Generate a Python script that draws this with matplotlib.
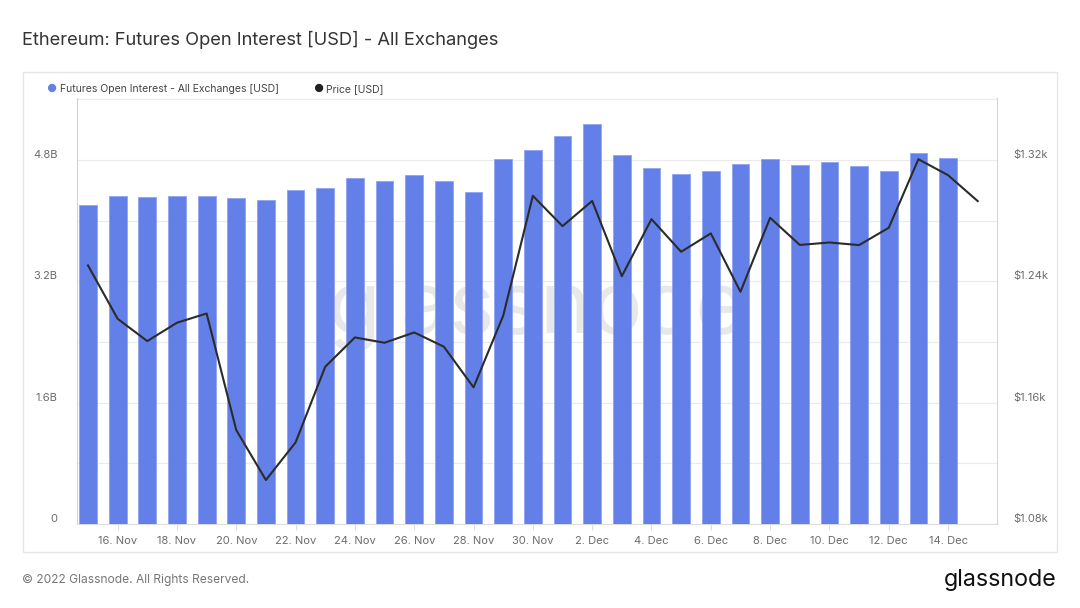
import matplotlib.pyplot as plt
from matplotlib.patches import Rectangle
import numpy as np

plt.rcParams['font.family'] = ['Inter', 'DejaVu Sans']

# daily data, 15 Nov - 15 Dec 2022
dates = ['15. Nov', '16. Nov', '17. Nov', '18. Nov', '19. Nov', '20. Nov', '21. Nov',
         '22. Nov', '23. Nov', '24. Nov', '25. Nov', '26. Nov', '27. Nov', '28. Nov',
         '29. Nov', '30. Nov', '1. Dec', '2. Dec', '3. Dec', '4. Dec', '5. Dec',
         '6. Dec', '7. Dec', '8. Dec', '9. Dec', '10. Dec', '11. Dec', '12. Dec',
         '13. Dec', '14. Dec', '15. Dec']
open_interest = [4.20, 4.32, 4.31, 4.32, 4.32, 4.30, 4.27, 4.40, 4.43, 4.56,
                 4.52, 4.60, 4.52, 4.38, 4.81, 4.93, 5.11, 5.28, 4.87, 4.70,
                 4.61, 4.66, 4.75, 4.81, 4.73, 4.77, 4.72, 4.66, 4.89, 4.82]
price = [1250.5, 1215.3, 1200.6, 1212.7, 1218.8, 1141.9, 1109.0, 1133.8, 1183.7, 1203.0,
         1199.5, 1206.3, 1196.9, 1170.1, 1217.3, 1296.4, 1276.4, 1293.0, 1243.4, 1281.0,
         1259.5, 1271.6, 1233.1, 1281.9, 1264.0, 1265.6, 1263.9, 1275.3, 1320.5, 1310.0,
         1292.9]

left_ticks = [0, 1.6, 3.2, 4.8]
left_labels = ['0', '1.6B', '3.2B', '4.8B']
right_ticks = [1080, 1160, 1240, 1320]
right_labels = ['$1.08k', '$1.16k', '$1.24k', '$1.32k']

blue = '#6380e9'
grey_txt = '#6b6b6b'

fig = plt.figure(figsize=(10.8, 6.08), dpi=100)
fig.patch.set_facecolor('white')

# card border
fig.patches.append(Rectangle((23 / 1080, 1 - 552 / 608), 1034 / 1080, 480 / 608,
                             transform=fig.transFigure, fill=False,
                             edgecolor='#e6e6e6', linewidth=1))

ax = fig.add_axes([77 / 1080, 1 - 524 / 608, 920 / 1080, 426 / 608])
ax2 = ax.twinx()

x = np.arange(len(dates))
ax.bar(x[:len(open_interest)], open_interest, width=0.6, color=blue,
       edgecolor='#8fa3f0', linewidth=0.6, zorder=3)
ax2.plot(x, price, color='#2b2b2b', linewidth=1.5, zorder=4)

ax.set_xlim(-0.37, 30.65)
ax.set_ylim(0, 4.8 * 426 / 364)
ax2.set_ylim(1080, 1080 + 240 * 426 / 364)

ax.set_yticks(left_ticks)
ax.set_yticklabels(left_labels)
ax.set_yticks(np.arange(0.8, 5.61, 0.8), minor=True)
ax.grid(axis='y', which='both', color='#ebebeb', linewidth=0.8, zorder=0)
ax2.set_yticks(right_ticks)
ax2.set_yticklabels(right_labels)

ax.set_xticks(x[1::2])
ax.set_xticklabels(dates[1::2])

for a in (ax, ax2):
    a.tick_params(axis='both', which='both', length=0, colors=grey_txt, labelsize=8)
    for s in a.spines.values():
        s.set_visible(False)
    for lab in a.get_yticklabels():
        lab.set_va('bottom')
ax.tick_params(axis='y', pad=14)
ax2.tick_params(axis='y', pad=12)
ax.tick_params(axis='x', pad=5)
ax.tick_params(axis='x', which='major', length=4, color='#dddddd')

ax.spines['left'].set_visible(True)
ax.spines['left'].set_color('#c7d0fa')
ax.spines['bottom'].set_visible(True)
ax.spines['bottom'].set_color('#dddddd')
ax2.spines['right'].set_visible(True)
ax2.spines['right'].set_color('#d5d5d5')

# watermark
ax.text(0.5, 0.5, 'glassnode', transform=ax.transAxes, fontsize=62,
        color='#e8e8e8', ha='center', va='center', zorder=1)

# title
fig.text(22 / 1080, 1 - 40 / 608, 'Ethereum: Futures Open Interest [USD] - All Exchanges',
         fontsize=13.2, color='#333333', va='center', ha='left')

# legend
fig.text(51 / 1080, 1 - 89 / 608, '\u25cf', color=blue, fontsize=8, va='center', ha='center')
fig.text(60 / 1080, 1 - 89 / 608, 'Futures Open Interest - All Exchanges [USD]',
         color='#444444', fontsize=7.5, va='center', ha='left')
fig.text(318 / 1080, 1 - 89 / 608, '\u25cf', color='#222222', fontsize=8, va='center', ha='center')
fig.text(326 / 1080, 1 - 89 / 608, 'Price [USD]', color='#444444', fontsize=7.5,
         va='center', ha='left')

# footer
fig.text(22 / 1080, 1 - 580 / 608, '\u00a9 2022 Glassnode. All Rights Reserved.',
         color='#777777', fontsize=8.65, va='center', ha='left')
fig.text(1057 / 1080, 1 - 580 / 608, 'glassnode', color='#111111', fontsize=16.8,
         va='center', ha='right')

fig.savefig('out.png', dpi=100)
